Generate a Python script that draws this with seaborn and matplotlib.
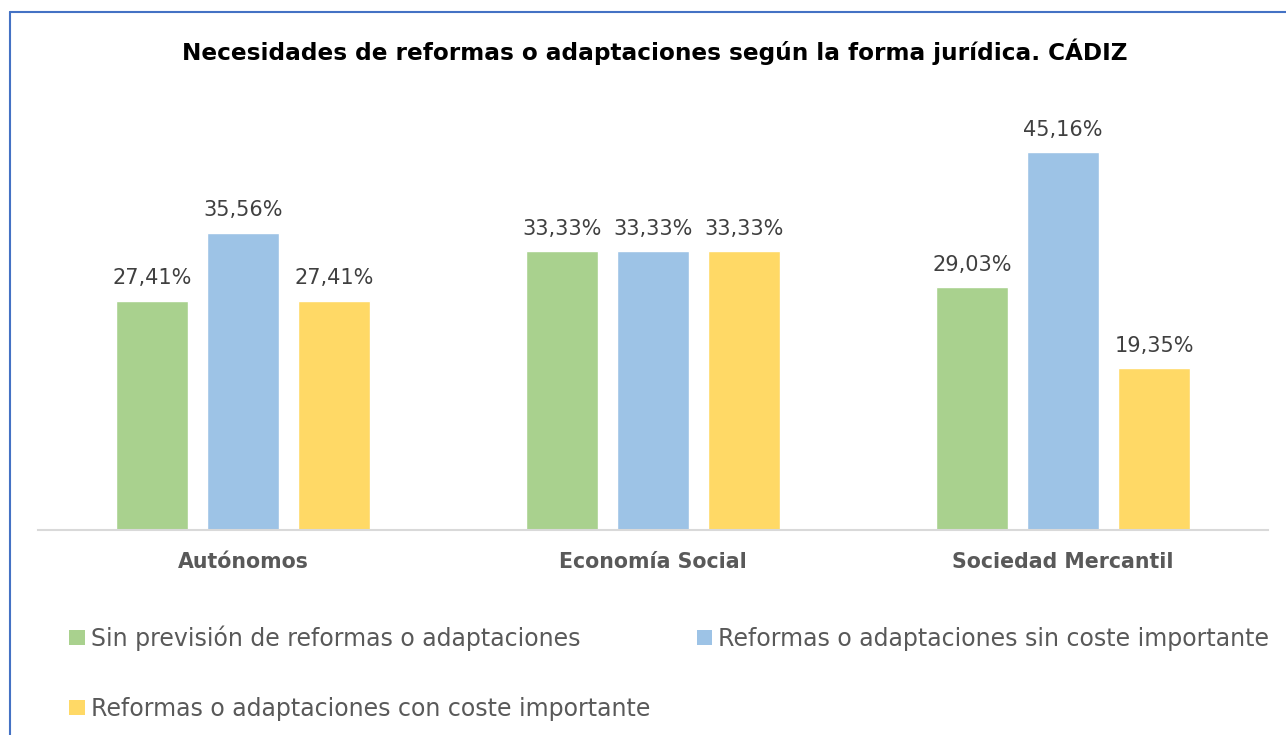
import pandas as pd
import seaborn as sns
import matplotlib.pyplot as plt
from matplotlib.lines import Line2D
from matplotlib.patches import Patch

categories = ['Autónomos', 'Economía Social', 'Sociedad Mercantil']
series_names = ['Sin previsión de reformas o adaptaciones',
                'Reformas o adaptaciones sin coste importante',
                'Reformas o adaptaciones con coste importante']
sin_prevision = [27.41, 33.33, 29.03]
sin_coste = [35.56, 33.33, 45.16]
con_coste = [27.41, 33.33, 19.35]
colors = ['#A9D18E', '#9DC3E6', '#FFD966']

rows = []
for name, vals in zip(series_names, [sin_prevision, sin_coste, con_coste]):
    for cat, v in zip(categories, vals):
        rows.append({'forma': cat, 'serie': name, 'valor': v})
df = pd.DataFrame(rows)

sns.set_style('white')
plt.rcParams['font.family'] = ['DejaVu Sans']

fig = plt.figure(figsize=(12.86, 7.35), dpi=100)
ax = fig.add_axes([38 / 1286, 205 / 735, 1230 / 1286, 418 / 735])

sns.barplot(data=df, x='forma', y='valor', hue='serie', order=categories,
            hue_order=series_names, palette=colors, width=0.666, gap=0.21,
            saturation=1, ax=ax, legend=False)

for cont in ax.containers:
    labels = [f'{b.get_height():.2f}%'.replace('.', ',') for b in cont]
    ax.bar_label(cont, labels=labels, padding=9, fontsize=15, color='#404040')

ax.set_xlim(-0.5, 2.5)
ax.set_ylim(0, 50)
ax.set_xlabel('')
ax.set_ylabel('')
ax.set_yticks([])
for s in ['top', 'right', 'left']:
    ax.spines[s].set_visible(False)
ax.spines['bottom'].set_color('#D9D9D9')
ax.spines['bottom'].set_linewidth(1.5)
ax.tick_params(axis='x', length=0, pad=16, labelsize=14.8, labelcolor='#595959')
for t in ax.get_xticklabels():
    t.set_fontweight('bold')

fig.text(655 / 1286, 1 - 52 / 735, 'Necesidades de reformas o adaptaciones según la forma jurídica. CÁDIZ',
         ha='center', va='center', fontsize=16.7, fontweight='bold', color='black')

# legend reads row by row in the reference
order = [0, 2, 1]
handles = [Patch(facecolor=colors[i], edgecolor='none') for i in order]
fig.legend(handles, [series_names[i] for i in order], loc='upper left',
           bbox_to_anchor=(48 / 1286, 1 - 604 / 735),
           ncol=2, frameon=False, fontsize=17, labelcolor='#595959',
           handlelength=0.65, handleheight=0.65, handletextpad=0.25,
           columnspacing=2.0, labelspacing=1.95)

# chart border
fig.add_artist(Line2D([10 / 1286, 10 / 1286], [0, 1 - 12 / 735], color='#4472C4', lw=1.5,
                      transform=fig.transFigure))
fig.add_artist(Line2D([10 / 1286, 1], [1 - 12 / 735, 1 - 12 / 735], color='#4472C4', lw=1.5,
                      transform=fig.transFigure))

fig.savefig('out.png', dpi=100)
